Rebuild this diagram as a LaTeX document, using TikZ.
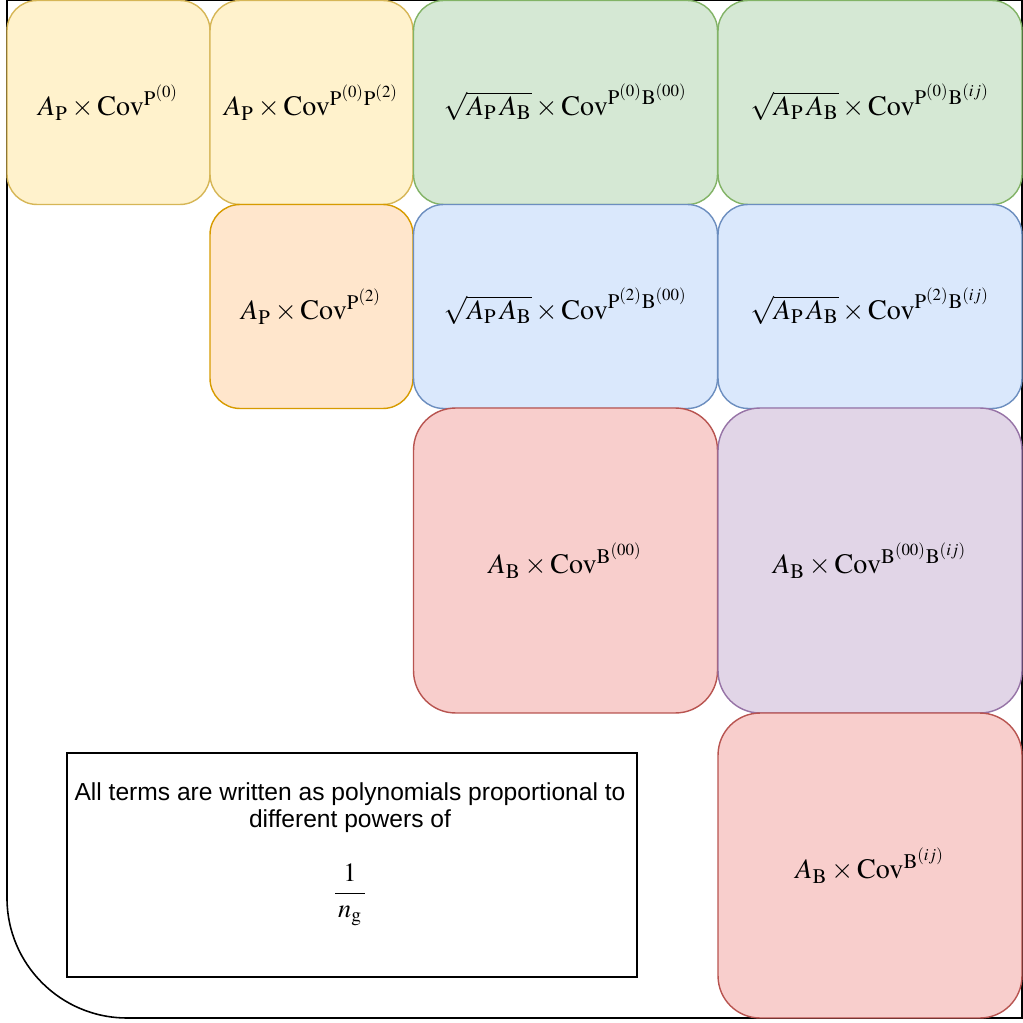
\documentclass[tikz,border=0pt]{standalone}
\usepackage{mathptmx}
\usepackage[no-math]{fontspec}
\newfontfamily\notefont{Liberation Sans}
\usetikzlibrary{positioning}

\definecolor{yelfill}{HTML}{FFF2CC}\definecolor{yeldraw}{HTML}{D6B656}
\definecolor{grnfill}{HTML}{D5E8D4}\definecolor{grndraw}{HTML}{82B366}
\definecolor{orafill}{HTML}{FFE6CC}\definecolor{oradraw}{HTML}{D79B00}
\definecolor{blufill}{HTML}{DAE8FC}\definecolor{bludraw}{HTML}{6C8EBF}
\definecolor{redfill}{HTML}{F8CECC}\definecolor{reddraw}{HTML}{B85450}
\definecolor{purfill}{HTML}{E1D5E7}\definecolor{purdraw}{HTML}{9673A6}

\newcommand{\Cov}{\mathrm{Cov}}
\newcommand{\AP}{A_{\mathrm{P}}}
\newcommand{\AB}{A_{\mathrm{B}}}

\begin{document}
\begin{tikzpicture}[
    x=0.02cm, y=-0.02cm,
    cell/.style={draw, line width=0.8pt, rounded corners=0.6cm, inner sep=0pt, font=\fontsize{16}{19}\selectfont},
    sq/.style={cell, minimum width=4.06cm, minimum height=4.08cm},
    wide/.style={cell, minimum width=6.08cm, minimum height=4.08cm},
    big/.style={cell, rounded corners=0.84cm, minimum width=6.08cm, minimum height=6.1cm},
    yel/.style={fill=yelfill, draw=yeldraw},
    grn/.style={fill=grnfill, draw=grndraw},
    ora/.style={fill=orafill, draw=oradraw},
    blu/.style={fill=blufill, draw=bludraw},
    red/.style={fill=redfill, draw=reddraw},
    pur/.style={fill=purfill, draw=purdraw},
    note/.style={draw, line width=0.9pt, minimum width=11.4cm, minimum height=4.48cm},
    notetext/.style={inner sep=0pt, align=center, font=\notefont\fontsize{14}{15.4}\selectfont}
]
\useasboundingbox (0,0) rectangle (1023,1023);

% outer frame
\draw[line width=0.9pt] (7,0) -- (7,898) arc[start angle=180, end angle=270, radius=2.4cm] -- (1022,1018) -- (1022,0) -- cycle;

% row 1
\node[sq, yel] (pp0) at (108.5,102.5) {$\AP\times\Cov^{\mathrm{P}^{(0)}}$};
\node[sq, yel] (pp02) at (311.5,102.5) {$\AP\times\Cov^{\mathrm{P}^{(0)}\mathrm{P}^{(2)}}$};
\node[wide, grn] (pb000) at (565.5,102.5) {$\sqrt{\AP\,\AB}\times\Cov^{\mathrm{P}^{(0)}\mathrm{B}^{(00)}}$};
\node[wide, grn] (pb0ij) at (870,102.5) {$\sqrt{\AP\,\AB}\times\Cov^{\mathrm{P}^{(0)}\mathrm{B}^{(ij)}}$};

% row 2
\node[sq, ora] (pp2) at (311.5,306.5) {$\AP\times\Cov^{\mathrm{P}^{(2)}}$};
\node[wide, blu] (pb200) at (565.5,306.5) {$\sqrt{\AP\,\AB}\times\Cov^{\mathrm{P}^{(2)}\mathrm{B}^{(00)}}$};
\node[wide, blu] (pb2ij) at (870,306.5) {$\sqrt{\AP\,\AB}\times\Cov^{\mathrm{P}^{(2)}\mathrm{B}^{(ij)}}$};

% row 3 and 4
\node[big, red] (bb00) at (565.5,560.5) {$\AB\times\Cov^{\mathrm{B}^{(00)}}$};
\node[big, pur] (bb00ij) at (870,560.5) {$\AB\times\Cov^{\mathrm{B}^{(00)}\mathrm{B}^{(ij)}}$};
\node[big, red] (bbij) at (870,865.5) {$\AB\times\Cov^{\mathrm{B}^{(ij)}}$};

% note
\node[note] (remark) at (352,865) {};
\node[notetext] (remarktxt) at (350,808) {All terms are written as polynomials proportional to\\ different powers of};
\node[inner sep=0pt, font=\fontsize{15}{18}\selectfont] (ngfrac) at (350,895) {$\displaystyle\frac{1}{\,n_{\mathrm{g}}\,}$};
\end{tikzpicture}
\end{document}
